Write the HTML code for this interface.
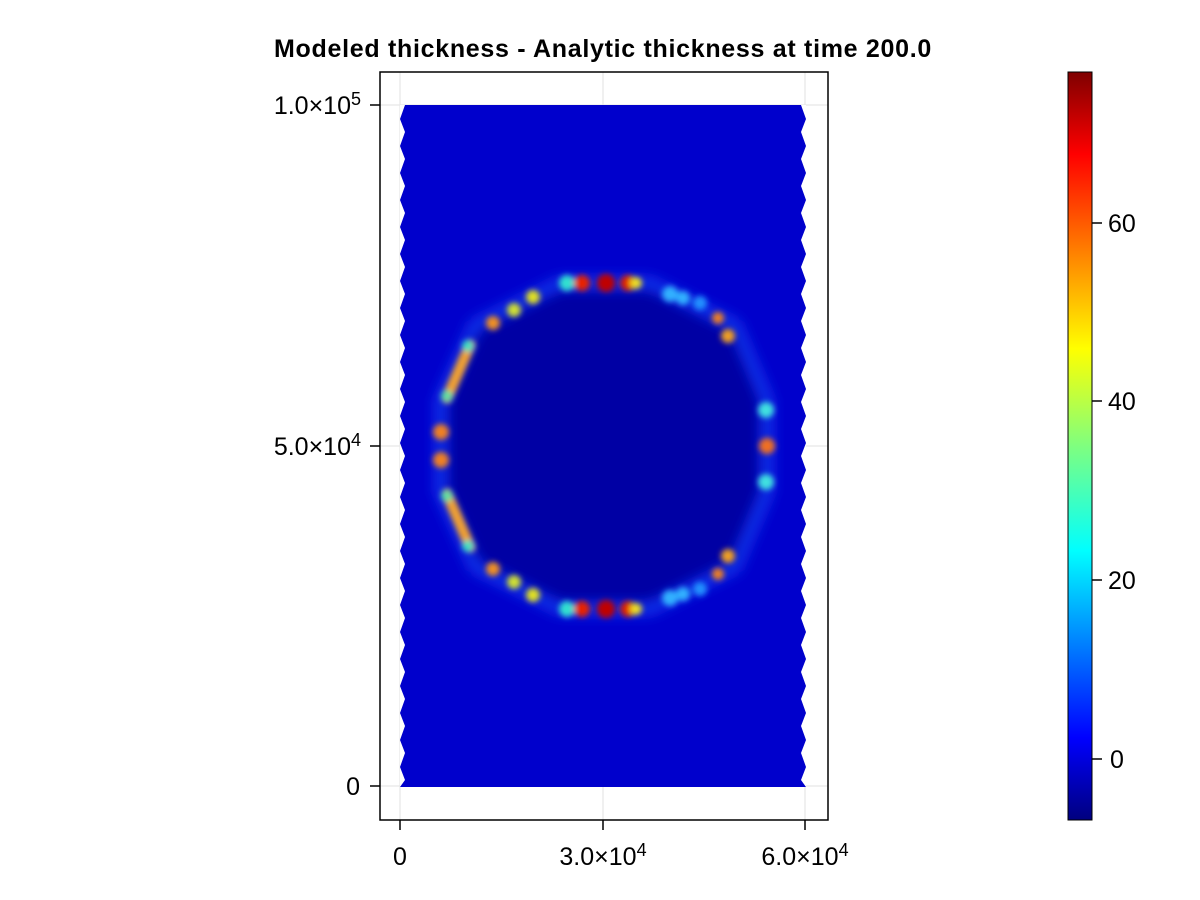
<!DOCTYPE html>
<html><head><meta charset="utf-8"><style>body{margin:0;background:#fff}svg{display:block}text{font-family:"Liberation Sans",sans-serif;fill:#000}</style></head>
<body>
<svg width="1200" height="900" viewBox="0 0 1200 900" xmlns="http://www.w3.org/2000/svg">
<defs>
<filter id="b2" x="-50%" y="-50%" width="200%" height="200%"><feGaussianBlur stdDeviation="7"/></filter>
<filter id="b3" x="-50%" y="-50%" width="200%" height="200%"><feGaussianBlur stdDeviation="3"/></filter>
<linearGradient id="jet" x1="0" y1="1" x2="0" y2="0">
<stop offset="0" stop-color="#00007f"/><stop offset="0.11" stop-color="#0000ff"/><stop offset="0.36" stop-color="#00ffff"/><stop offset="0.5" stop-color="#7fff7f"/><stop offset="0.63" stop-color="#ffff00"/><stop offset="0.89" stop-color="#ff0000"/><stop offset="1" stop-color="#7f0000"/>
</linearGradient>
<clipPath id="c"><rect x="400" y="105" width="406" height="682"/></clipPath>
</defs>
<text x="603" y="57" font-size="25" font-weight="bold" text-anchor="middle" letter-spacing="0.7">Modeled thickness - Analytic thickness at time 200.0</text>
<g stroke="#e6e6e6" stroke-width="1.2">
<line x1="400" y1="72" x2="400" y2="820"/><line x1="603" y1="72" x2="603" y2="820"/><line x1="805" y1="72" x2="805" y2="820"/>
<line x1="380" y1="105" x2="828" y2="105"/><line x1="380" y1="446" x2="828" y2="446"/><line x1="380" y1="786" x2="828" y2="786"/>
</g>
<g clip-path="url(#c)">
<rect x="400" y="105" width="406" height="682" fill="#0000cc"/>
<polygon points="560,288 650,288 735,330 762,400 762,492 735,562 650,604 560,604 475,562 446,492 446,400 475,330" fill="#0000a4" filter="url(#b2)"/>
<polygon points="560,283 650,283 735,325 767,400 767,492 735,567 650,609 560,609 475,567 441,492 441,400 475,325" fill="none" stroke="#1a50ff" stroke-width="8" filter="url(#b2)"/>
<g filter="url(#b3)">
<g id="top">
<circle cx="567" cy="283" r="8" fill="#30e0d0"/><circle cx="582" cy="283" r="8" fill="#e82000"/><circle cx="606" cy="283" r="9" fill="#c00000"/><circle cx="628" cy="283" r="8" fill="#e02000"/><circle cx="636" cy="283" r="6" fill="#f0e020"/>
<circle cx="670" cy="294" r="8" fill="#30b0ff"/><circle cx="683" cy="298" r="7" fill="#30b0ff"/><circle cx="700" cy="303" r="7" fill="#2090ff"/>
<circle cx="718" cy="318" r="6" fill="#f08020"/><circle cx="728" cy="336" r="7" fill="#f0a020"/>
<circle cx="533" cy="297" r="7" fill="#e0e020"/><circle cx="514" cy="310" r="7" fill="#d0e030"/><circle cx="493" cy="323" r="7" fill="#f09020"/>
<line x1="447" y1="398" x2="470" y2="345" stroke="#f0a030" stroke-width="11" stroke-linecap="round"/>
<circle cx="468" cy="346" r="6" fill="#40e0c0"/><circle cx="447" cy="396" r="6" fill="#60e0a0"/>
<circle cx="441" cy="432" r="8" fill="#f08020"/>
<circle cx="766" cy="410" r="8" fill="#40e0e0"/><circle cx="767" cy="446" r="8" fill="#f07020"/>
</g>
<use href="#top" transform="translate(0,892) scale(1,-1)"/>
</g>
<path id="zz" fill="#fff" d="M400,105 L405,105 L400,119 L405,132 L400,146 L405,159 L400,173 L405,186 L400,200 L405,213 L400,227 L405,240 L400,254 L405,267 L400,281 L405,294 L400,308 L405,321 L400,335 L405,348 L400,362 L405,375 L400,389 L405,402 L400,416 L405,429 L400,443 L405,456 L400,470 L405,483 L400,497 L405,510 L400,524 L405,537 L400,551 L405,564 L400,578 L405,591 L400,605 L405,618 L400,632 L405,645 L400,659 L405,672 L400,686 L405,699 L400,713 L405,726 L400,740 L405,753 L400,767 L405,780 L400,787 Z"/>
<use href="#zz" transform="translate(1206,0) scale(-1,1)"/>
</g>
<rect x="380" y="72" width="448" height="748" fill="none" stroke="#000" stroke-width="1.5"/>
<g stroke="#000" stroke-width="1.5">
<line x1="370" y1="105" x2="380" y2="105"/><line x1="370" y1="446" x2="380" y2="446"/><line x1="370" y1="786" x2="380" y2="786"/>
<line x1="400" y1="820" x2="400" y2="830"/><line x1="603" y1="820" x2="603" y2="830"/><line x1="805" y1="820" x2="805" y2="830"/>
</g>
<g font-size="25" text-anchor="end">
<text x="361" y="114">1.0×10<tspan font-size="18" dy="-9">5</tspan></text>
<text x="361" y="455">5.0×10<tspan font-size="18" dy="-9">4</tspan></text>
<text x="360" y="795">0</text>
</g>
<g font-size="25" text-anchor="middle">
<text x="400" y="865">0</text>
<text x="603" y="865">3.0×10<tspan font-size="18" dy="-9">4</tspan></text>
<text x="805" y="865">6.0×10<tspan font-size="18" dy="-9">4</tspan></text>
</g>
<rect x="1068" y="72" width="24" height="748" fill="url(#jet)"/>
<rect x="1068" y="72" width="24" height="748" fill="none" stroke="#000" stroke-width="1"/>
<g stroke="#000" stroke-width="1.5">
<line x1="1092" y1="223" x2="1102" y2="223"/><line x1="1092" y1="401" x2="1102" y2="401"/><line x1="1092" y1="580" x2="1102" y2="580"/><line x1="1092" y1="759" x2="1102" y2="759"/>
</g>
<g font-size="25">
<text x="1108" y="232">60</text><text x="1108" y="410">40</text><text x="1108" y="589">20</text><text x="1110" y="768">0</text>
</g>
</svg>
</body></html>
